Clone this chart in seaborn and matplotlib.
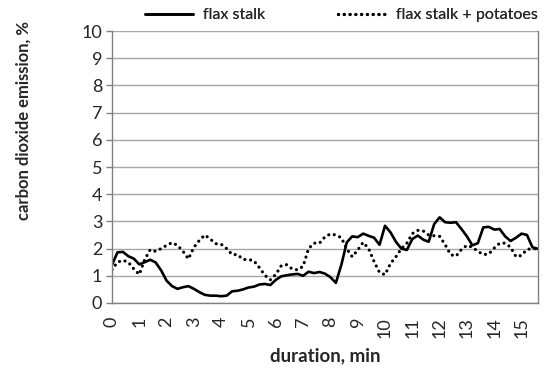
import numpy as np
import pandas as pd
import seaborn as sns
import matplotlib.pyplot as plt

# CO2 emission, %, read every 0.2 min (12 s)
flax = [1.40, 1.86, 1.88, 1.72, 1.63, 1.42, 1.50, 1.59, 1.49, 1.20,
        0.82, 0.62, 0.52, 0.58, 0.62, 0.52, 0.40, 0.30, 0.27, 0.27,
        0.25, 0.27, 0.43, 0.45, 0.50, 0.57, 0.60, 0.68, 0.70, 0.66,
        0.85, 0.98, 1.02, 1.05, 1.07, 1.00, 1.15, 1.10, 1.14, 1.08,
        0.95, 0.74, 1.40, 2.23, 2.45, 2.42, 2.55, 2.47, 2.40, 2.14,
        2.84, 2.60, 2.25, 2.00, 1.95, 2.35, 2.48, 2.33, 2.25, 2.90,
        3.15, 2.97, 2.95, 2.97, 2.72, 2.45, 2.12, 2.20, 2.78, 2.80,
        2.70, 2.72, 2.45, 2.28, 2.40, 2.55, 2.50, 2.05, 1.99]
flax_potatoes = [1.22, 1.50, 1.57, 1.50, 1.25, 1.05, 1.60, 1.96, 1.90, 2.00,
                 2.12, 2.22, 2.12, 1.90, 1.62, 2.05, 2.30, 2.50, 2.35, 2.18,
                 2.16, 2.00, 1.78, 1.78, 1.60, 1.60, 1.55, 1.30, 1.02, 0.85,
                 1.05, 1.37, 1.41, 1.25, 1.22, 1.35, 2.00, 2.20, 2.20, 2.43,
                 2.54, 2.50, 2.40, 1.99, 1.70, 1.95, 2.23, 2.00, 1.52, 1.12,
                 1.04, 1.45, 1.70, 2.00, 2.20, 2.55, 2.67, 2.65, 2.50, 2.47,
                 2.45, 2.15, 1.78, 1.72, 1.97, 2.12, 2.05, 1.90, 1.78, 1.80,
                 2.02, 2.20, 2.20, 2.05, 1.70, 1.75, 1.97, 2.00, 1.99]
minutes = np.round(np.arange(len(flax)) * 0.2, 1)
xticks = list(range(0, 16))
yticks = list(range(0, 11))

df = pd.DataFrame({'duration': minutes, 'flax stalk': flax,
                   'flax stalk + potatoes': flax_potatoes})

sns.set_theme(style='white')
plt.rcParams['font.family'] = ['Lato', 'DejaVu Sans']

fig = plt.figure(figsize=(5.5, 3.71), dpi=100)
ax = fig.add_axes([0.2036, 0.1833, 0.7744, 0.7331])

sns.lineplot(data=df, x='duration', y='flax stalk', ax=ax, color='black',
             linewidth=1.9, label='flax stalk')
sns.lineplot(data=df, x='duration', y='flax stalk + potatoes', ax=ax,
             color='black', linewidth=2.3, linestyle=(0, (0.01, 1.8)),
             dash_capstyle='round', label='flax stalk + potatoes')

ax.set_xlim(0, 15.6)
ax.set_ylim(0, 10)
ax.set_xticks(xticks)
ax.set_xticklabels([str(t) for t in xticks], rotation=90, fontsize=13)
ax.set_yticks(yticks)
ax.set_yticklabels([str(t) for t in yticks], fontsize=13)
ax.yaxis.grid(True, color='#a6a6a6', linewidth=1)
ax.tick_params(axis='y', left=True, length=4, width=1, color='#808080', pad=3)
ax.tick_params(axis='x', bottom=False, pad=4)
for side in ['left', 'bottom', 'right']:
    ax.spines[side].set_color('#808080')
    ax.spines[side].set_linewidth(1)
ax.spines['top'].set_visible(False)

ax.set_xlabel('duration, min', fontsize=13.5, fontweight='bold', labelpad=7)
ax.set_ylabel('')
fig.text(0.042, 0.675, 'carbon dioxide emission, %', rotation=90,
         fontsize=12, fontweight='bold', ha='center', va='center')

# legend entries placed separately, as in the reference
handles, labels = ax.get_legend_handles_labels()
ax.get_legend().remove()
leg_x = [145 / 550, 338 / 550]
for h, lab, lx in zip(handles, labels, leg_x):
    leg = fig.legend([h], [lab], loc='upper left', bbox_to_anchor=(lx, 0.978),
                     frameon=False, fontsize=11.6, handlelength=3.0,
                     handletextpad=0.6, borderpad=0, borderaxespad=0)
    fig.add_artist(leg)

fig.savefig('out.png', dpi=100)
